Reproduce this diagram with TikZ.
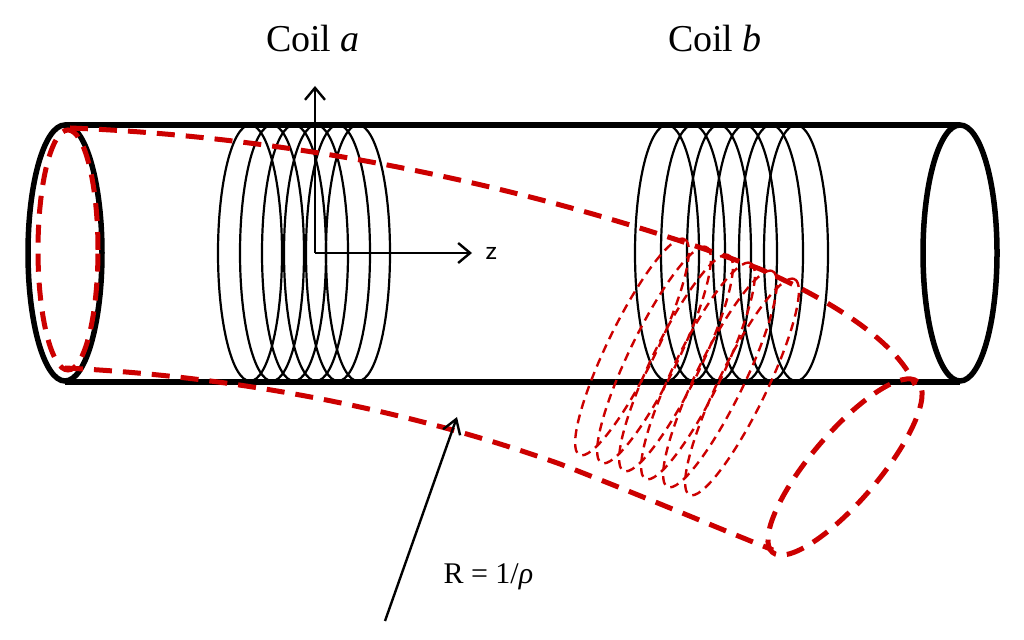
\documentclass[tikz,border=0pt]{standalone}
\usepackage{fontspec}
\setmainfont{Liberation Serif}
\usetikzlibrary{arrows.meta,positioning}

\begin{document}
\begin{tikzpicture}[x=1pt,y=1pt,
    tube/.style={line width=5.5pt},
    ring/.style={line width=2.2pt},
    bent/.style={red!80!black, line width=5pt, dash pattern=on 18pt off 11pt},
    bentring/.style={red!80!black, line width=2.4pt, dash pattern=on 9pt off 6pt},
    axis/.style={line width=2.4pt, -{Straight Barb[length=12pt,width=20pt]}}]
\useasboundingbox (0,0) rectangle (1024,639);

% Straight tube
\draw[tube] (65,514) -- (960,514);
\draw[tube] (65,257) -- (960,257);
\draw[tube] (65,386) ellipse (37 and 128);
\draw[tube] (960,386) ellipse (37 and 128);

% Coil a and coil b
\foreach \x in {250,272,294,316,338,358}
  \draw[ring] (\x,386) ellipse (32 and 128);
\foreach \x in {667,693,719,745,771,796}
  \draw[ring] (\x,386) ellipse (32 and 128);

% Axes
\coordinate (o) at (315,386);
\coordinate (zend) at (472,386);
\coordinate (yend) at (315,553);
\draw[axis] (o) -- (zend);
\draw[axis] (o) -- (yend);
\node[font=\fontsize{28}{30}\selectfont\sffamily, right=10pt of zend] (zlab) {z};

% Bent tube
\draw[bent] (68,389) ellipse (30 and 120);
\draw[bent] (70,511) .. controls (350,500) and (600,430) .. (760,370)
            .. controls (850,330) and (900,290) .. (915,254);
\draw[bent] (65,271) .. controls (250,262) and (420,225) .. (560,175)
            .. controls (650,140) and (720,110) .. (773,89);
\draw[bent] (845,172) ellipse[x radius=112, y radius=34, rotate=49.6];

% Coils on bent tube
\foreach \i in {0,...,5}
  \draw[bentring] (632+22*\i,292-8*\i) ellipse[x radius=120, y radius=24, rotate=64];

% Labels
\node[font=\fontsize{38}{40}\selectfont] (coila) at (313,600) {Coil \textit{a}};
\node[font=\fontsize{38}{40}\selectfont] (coilb) at (715,600) {Coil \textit{b}};
\node[font=\fontsize{30}{32}\selectfont, anchor=west] (rlab) at (440,62) {R = 1/\textit{ρ}};
\coordinate (rtail) at (385,18);
\coordinate (rhead) at (457,222);
\draw[line width=2.4pt, -{Straight Barb[length=14pt,width=18pt]}] (rtail) -- (rhead);
\end{tikzpicture}
\end{document}
